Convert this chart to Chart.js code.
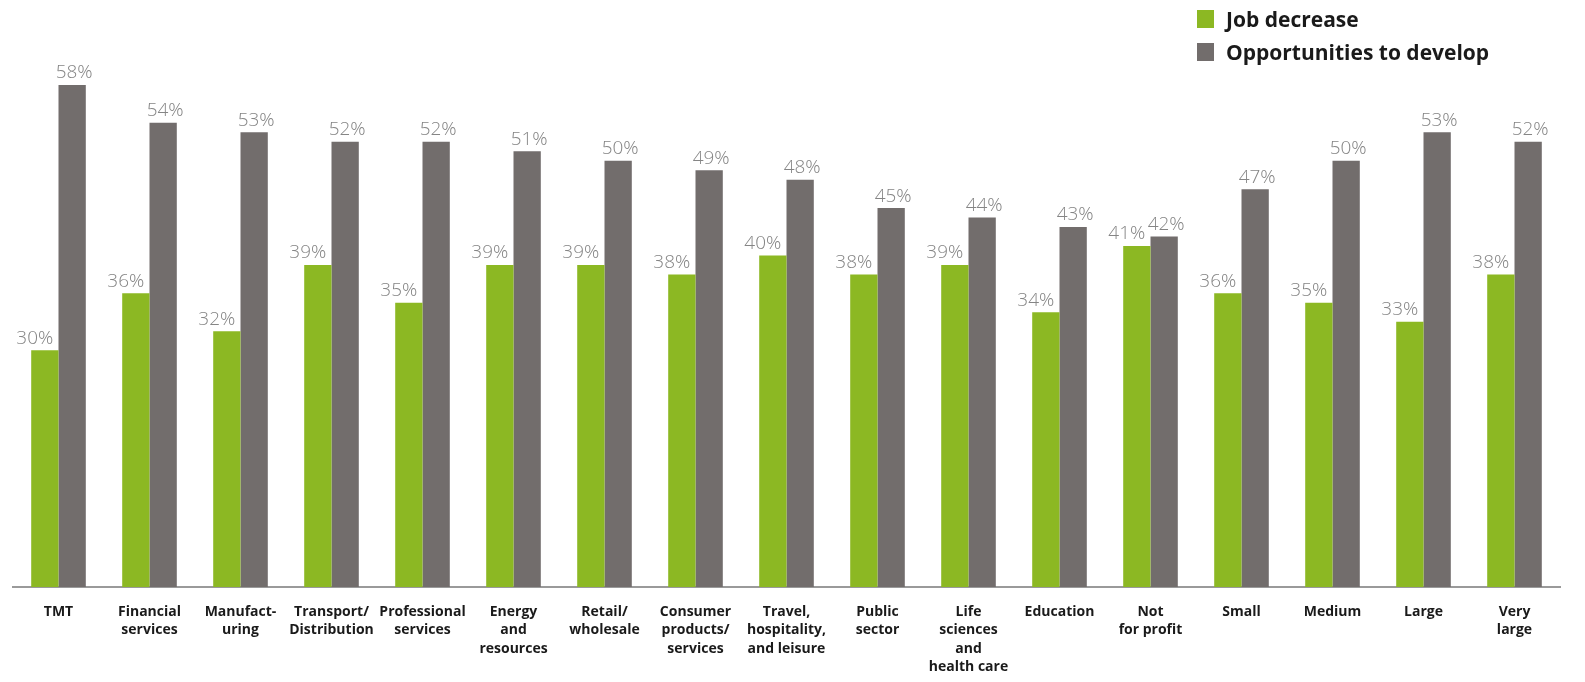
<!DOCTYPE html>
<html>
<head>
<meta charset="utf-8">
<script src="https://cdn.jsdelivr.net/npm/chart.js@4.4.1/dist/chart.umd.min.js"></script>
<style>
  html, body { margin: 0; padding: 0; background: #fff; }
  #wrap { position: relative; width: 1585px; height: 682px; }
  #legend { position: absolute; left: 1197px; top: 2px; font-family: "Open Sans", sans-serif; font-weight: 700; font-size: 21px; color: #1a1a1a; }
  .item { display: flex; align-items: center; height: 33px; }
  .box { width: 17px; height: 18px; margin-right: 12px; }
</style>
</head>
<body>
<div id="wrap">
  <canvas id="grafica" width="1585" height="682"></canvas>
  <div id="legend"></div>
</div>
<script>
const categorias = [
  ['TMT'], ['Financial', 'services'], ['Manufact-', 'uring'], ['Transport/', 'Distribution'],
  ['Professional', 'services'], ['Energy', 'and', 'resources'], ['Retail/', 'wholesale'],
  ['Consumer', 'products/', 'services'], ['Travel,', 'hospitality,', 'and leisure'],
  ['Public', 'sector'], ['Life', 'sciences', 'and', 'health care'], ['Education'],
  ['Not', 'for profit'], ['Small'], ['Medium'], ['Large'], ['Very', 'large']
];
const jobDecrease = [30, 36, 32, 39, 35, 39, 39, 38, 40, 38, 39, 34, 41, 36, 35, 33, 38];
const opportunities = [58, 54, 53, 52, 52, 51, 50, 49, 48, 45, 44, 43, 42, 47, 50, 53, 52];
const series = ['Job decrease', 'Opportunities to develop'];
const colores = ['#8cb823', '#726d6c'];

// etiquetas de valor sobre cada barra (las verdes algo corridas a la izquierda)
const etiquetas = {
  id: 'etiquetas',
  afterDatasetsDraw(chart) {
    const ctx = chart.ctx;
    const desplazamiento = [-10, 2];
    ctx.save();
    ctx.font = '300 19px "Open Sans Light", "Open Sans", sans-serif';
    ctx.fillStyle = '#858585';
    ctx.textAlign = 'center';
    ctx.textBaseline = 'bottom';
    chart.data.datasets.forEach((ds, i) => {
      chart.getDatasetMeta(i).data.forEach((bar, j) => {
        ctx.fillText(ds.data[j] + '%', bar.x + desplazamiento[i], bar.y - 2);
      });
    });
    ctx.restore();
  }
};

const ctx = document.getElementById('grafica').getContext('2d');
const chart = new Chart(ctx, {
  type: 'bar',
  data: {
    labels: categorias,
    datasets: [
      { label: series[0], data: jobDecrease, backgroundColor: colores[0] },
      { label: series[1], data: opportunities, backgroundColor: colores[1] }
    ]
  },
  options: {
    responsive: false,
    animation: false,
    barPercentage: 1,
    categoryPercentage: 0.6,
    layout: { padding: { top: 66, left: 13, right: 25, bottom: 0 } },
    plugins: { legend: { display: false }, tooltip: { enabled: false } },
    scales: {
      x: {
        grid: { display: false },
        border: { display: true, color: '#9a9a9a', width: 2 },
        ticks: {
          autoSkip: false,
          maxRotation: 0,
          padding: 8,
          color: '#1a1a1a',
          font: { family: '"Open Sans", sans-serif', weight: 'bold', size: 14, lineHeight: 1.31 }
        },
        afterFit: (scale) => { scale.height = 95; }
      },
      y: {
        display: false,
        min: 5,
        max: 60
      }
    }
  },
  plugins: [etiquetas]
});

const legend = document.getElementById('legend');
series.forEach((s, i) => {
  const row = document.createElement('div');
  row.className = 'item';
  row.innerHTML = '<span class="box" style="background:' + colores[i] + '"></span><span>' + s + '</span>';
  legend.appendChild(row);
});
</script>
</body>
</html>
